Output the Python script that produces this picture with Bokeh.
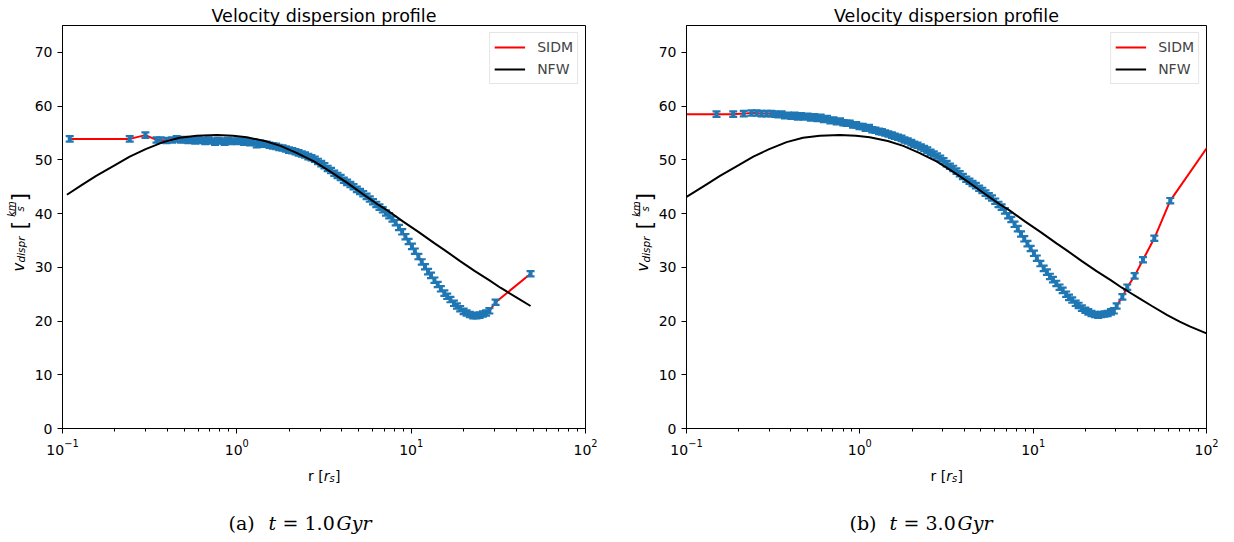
import math

from bokeh.core.properties import value
from bokeh.embed import file_html
from bokeh.layouts import row
from bokeh.models import FixedTicker, Legend, LegendItem, LogTickFormatter, Range1d
from bokeh.plotting import figure
from bokeh.resources import INLINE

# ---------------------------------------------------------------- data
# panel (a): t = 1.0 Gyr
r_sidm_a = [0.110, 0.243, 0.299, 0.346, 0.365, 0.395, 0.426, 0.452, 0.478, 0.501,
            0.527, 0.552, 0.578, 0.603, 0.631, 0.659, 0.688, 0.718, 0.750, 0.782,
            0.815, 0.851, 0.888, 0.926, 0.966, 1.01, 1.05, 1.10, 1.14, 1.19,
            1.25, 1.30, 1.36, 1.42, 1.48, 1.54, 1.61, 1.68, 1.75, 1.83,
            1.91, 1.99, 2.08, 2.17, 2.26, 2.36, 2.46, 2.57, 2.68, 2.80,
            2.92, 3.05, 3.18, 3.32, 3.47, 3.62, 3.78, 3.94, 4.11, 4.29,
            4.48, 4.67, 4.88, 5.09, 5.31, 5.55, 5.79, 6.04, 6.31, 6.58,
            6.87, 7.17, 7.48, 7.81, 8.15, 8.51, 8.88, 9.27, 9.67, 10.1,
            10.5, 11.0, 11.5, 12.0, 12.5, 13.0, 13.6, 14.2, 14.8, 15.5,
            16.1, 16.8, 17.6, 18.3, 19.1, 20.0, 20.8, 21.7, 22.7, 23.7,
            24.7, 25.8, 26.9, 28.1, 30.5, 48.4]
v_sidm_a = [53.9, 53.9, 54.6, 53.7, 53.7, 53.6, 53.7, 53.9, 53.7, 53.8,
            53.6, 53.7, 53.5, 53.7, 53.6, 53.4, 53.7, 53.5, 53.3, 53.6,
            53.5, 53.3, 53.6, 53.4, 53.5, 53.4, 53.5, 53.3, 53.4, 53.2,
            53.3, 52.8, 53.1, 52.9, 52.9, 52.7, 52.6, 52.5, 52.3, 52.2,
            52.0, 51.8, 51.7, 51.5, 51.3, 51.1, 50.9, 50.6, 50.4, 50.1,
            49.7, 49.3, 48.9, 48.4, 48.0, 47.5, 47.1, 46.7, 46.2, 45.8,
            45.4, 45.0, 44.5, 44.1, 43.7, 43.2, 42.7, 42.2, 41.7, 41.2,
            40.7, 40.1, 39.6, 39.0, 38.3, 37.4, 36.6, 35.7, 34.8, 33.9,
            33.0, 32.0, 31.0, 30.1, 29.2, 28.5, 27.6, 26.8, 26.0, 25.2,
            24.6, 24.0, 23.3, 22.8, 22.3, 21.8, 21.5, 21.2, 21.0, 21.0,
            21.1, 21.3, 21.5, 21.9, 23.5, 28.8]
err_a = 0.5

r_nfw_a = [0.106, 0.13, 0.156, 0.20, 0.243, 0.30, 0.378, 0.47, 0.588, 0.767,
           0.95, 1.14, 1.45, 1.78, 2.2, 2.77, 3.44, 4.3, 5.3, 6.5,
           7.3, 9.0, 11.0, 13.7, 15.4, 19.0, 23.2, 28.0, 32.5, 35.3,
           41.0, 48.4]
v_nfw_a = [43.5, 45.4, 47.0, 49.0, 50.6, 52.0, 53.3, 54.1, 54.5, 54.6,
           54.5, 54.2, 53.5, 52.6, 51.3, 49.7, 47.8, 45.7, 43.6, 41.6,
           40.6, 38.5, 36.6, 34.4, 33.3, 31.2, 29.3, 27.6, 26.2, 25.5,
           24.2, 22.8]

# panel (b): t = 3.0 Gyr
r_sidm_b = [0.070, 0.149, 0.186, 0.214, 0.237, 0.254, 0.271, 0.290, 0.309, 0.325,
            0.339, 0.354, 0.370, 0.386, 0.403, 0.421, 0.439, 0.458, 0.479, 0.500,
            0.522, 0.545, 0.569, 0.594, 0.620, 0.647, 0.676, 0.705, 0.736, 0.769,
            0.803, 0.838, 0.875, 0.913, 0.953, 0.995, 1.04, 1.08, 1.13, 1.18,
            1.23, 1.29, 1.34, 1.40, 1.46, 1.53, 1.59, 1.66, 1.74, 1.81,
            1.89, 1.98, 2.06, 2.15, 2.25, 2.35, 2.45, 2.56, 2.67, 2.79,
            2.91, 3.04, 3.17, 3.31, 3.46, 3.61, 3.77, 3.93, 4.11, 4.29,
            4.47, 4.67, 4.88, 5.09, 5.31, 5.55, 5.79, 6.04, 6.31, 6.58,
            6.87, 7.17, 7.48, 7.81, 8.15, 8.51, 8.88, 9.27, 9.67, 10.1,
            10.5, 11.0, 11.5, 12.0, 12.5, 13.0, 13.6, 14.2, 14.8, 15.5,
            16.1, 16.8, 17.6, 18.3, 19.1, 20.0, 20.8, 21.7, 22.7, 23.7,
            24.7, 25.8, 26.9, 28.1, 29.2, 30.3, 32.7, 34.9, 38.5, 43.0,
            50.0, 61.8, 120.0]
v_sidm_b = [58.5, 58.5, 58.5, 58.6, 58.7, 58.7, 58.6, 58.6, 58.6, 58.5,
            58.4, 58.5, 58.2, 58.3, 58.1, 58.3, 58.0, 58.2, 58.0, 58.1,
            57.8, 58.0, 57.7, 57.9, 57.5, 57.7, 57.3, 57.4, 57.1, 57.2,
            56.9, 56.8, 56.8, 56.5, 56.5, 56.2, 56.2, 55.9, 56.0, 55.6,
            55.5, 55.3, 55.2, 55.0, 54.8, 54.6, 54.4, 54.2, 54.0, 53.7,
            53.5, 53.2, 52.9, 52.7, 52.4, 52.1, 51.8, 51.4, 51.1, 50.7,
            50.3, 49.8, 49.3, 48.8, 48.4, 47.9, 47.4, 46.9, 46.4, 46.0,
            45.6, 45.2, 44.7, 44.3, 43.8, 43.3, 42.9, 42.3, 41.7, 41.2,
            40.5, 39.6, 38.9, 38.0, 37.2, 36.2, 35.3, 34.4, 33.5, 32.6,
            31.7, 30.7, 29.8, 29.1, 28.3, 27.7, 27.0, 26.3, 25.7, 25.0,
            24.4, 23.9, 23.3, 22.9, 22.4, 22.0, 21.7, 21.4, 21.2, 21.1,
            21.2, 21.3, 21.4, 21.7, 21.9, 22.8, 24.5, 26.3, 28.4, 31.4,
            35.4, 42.4, 55.8]
err_b = 0.5

r_nfw_b = [0.09, 0.10, 0.13, 0.156, 0.20, 0.243, 0.30, 0.378, 0.47, 0.588,
           0.767, 0.95, 1.14, 1.45, 1.78, 2.2, 2.77, 3.44, 4.3, 5.3,
           6.5, 7.3, 9.0, 11.0, 13.7, 15.4, 19.0, 23.2, 28.0, 32.5,
           35.3, 41.0, 48.4, 59.4, 70.0, 80.0, 100.0, 115.0]
v_nfw_b = [42.3, 43.1, 45.4, 47.0, 49.0, 50.6, 52.0, 53.3, 54.1, 54.5,
           54.6, 54.5, 54.2, 53.5, 52.6, 51.3, 49.7, 47.8, 45.7, 43.6,
           41.6, 40.6, 38.5, 36.6, 34.4, 33.3, 31.2, 29.3, 27.6, 26.2,
           25.5, 24.2, 22.8, 21.1, 19.9, 19.0, 17.7, 17.0]

x_major = [0.1, 1, 10, 100]
y_major = [0, 10, 20, 30, 40, 50, 60, 70]

title_text = "Velocity dispersion profile"
legend_labels = ["SIDM", "NFW"]
captions = [("(a)", "1.0"), ("(b)", "3.0")]

# ---------------------------------------------------------------- layout
PAGE_H = 542
FIG_W = 617
FRAME_TOP, FRAME_BOTTOM = 25, 428
BLUE = "#1f77b4"
SANS = "DejaVu Sans"
SERIF = "DejaVu Serif"


class TextPlacer:
    """Draws free text at page pixel positions, anchored on an in-frame data point."""

    def __init__(self, p, left, right):
        self.p = p
        decade = (right - left) / 3.0
        self.ax = 1.0
        self.ay = 30.0
        self.apx = left + (math.log10(self.ax) + 1) * decade
        self.apy = FRAME_BOTTOM - self.ay * (FRAME_BOTTOM - FRAME_TOP) / 75.0

    def put(self, text, px, py, size, font=SANS, style="normal",
            align="left", baseline="alphabetic", angle=0.0):
        self.p.text(x=[self.ax], y=[self.ay], text=[text],
                    x_offset=px - self.apx, y_offset=py - self.apy, angle=angle,
                    text_font=value(font), text_font_size=value(f"{size}px"),
                    text_font_style=style, text_align=align,
                    text_baseline=baseline, text_color="black", level="overlay")


def panel(r, v, err, rn, vn, left, right, offset, caption, cap_x):
    p = figure(width=FIG_W, height=PAGE_H, x_axis_type="log",
               x_range=Range1d(0.1, 100), y_range=Range1d(0, 75), title=None,
               output_backend="svg", toolbar_location=None,
               min_border_left=left - offset,
               min_border_right=offset + FIG_W - right,
               min_border_top=FRAME_TOP, min_border_bottom=PAGE_H - FRAME_BOTTOM)
    p.background_fill_color = "white"
    p.border_fill_color = "white"
    p.outline_line_color = "black"
    p.outline_line_width = 1
    p.grid.visible = False

    minors = [m * 10.0 ** k for k in (-1, 0, 1) for m in range(2, 10)]
    p.xaxis.ticker = FixedTicker(ticks=x_major, minor_ticks=minors)
    p.xaxis.formatter = LogTickFormatter()
    p.yaxis.ticker = FixedTicker(ticks=y_major)
    for ax in (p.xaxis[0], p.yaxis[0]):
        ax.axis_line_color = "black"
        ax.major_tick_in = 0
        ax.major_tick_out = 5
        ax.minor_tick_in = 0
        ax.minor_tick_out = 3
        ax.major_tick_line_color = "black"
        ax.minor_tick_line_color = "black"
        ax.major_label_text_font = SANS
        ax.major_label_text_font_size = "14px"
        ax.major_label_text_color = "black"
        ax.major_label_standoff = 5
    p.yaxis.minor_tick_line_color = None

    lo = [y - err for y in v]
    hi = [y + err for y in v]
    sidm = p.line(r, v, line_color="red", line_width=2)
    p.segment(r, lo, r, hi, line_color=BLUE, line_width=4)
    p.scatter(r, hi, marker="dash", size=8, line_color=BLUE, line_width=2.2)
    p.scatter(r, lo, marker="dash", size=8, line_color=BLUE, line_width=2.2)
    nfw = p.line(rn, vn, line_color="black", line_width=2)

    legend = Legend(items=[LegendItem(label=legend_labels[0], renderers=[sidm]),
                           LegendItem(label=legend_labels[1], renderers=[nfw])],
                    location="top_right", margin=7, padding=4, spacing=2,
                    glyph_width=31, glyph_height=20, label_standoff=12,
                    label_text_font=SANS, label_text_font_size="14px",
                    border_line_color="#cccccc", border_line_width=1,
                    background_fill_alpha=0.8)
    p.add_layout(legend)

    t = TextPlacer(p, left, right)
    cx = (left + right) / 2
    dx = left - 62
    # title
    t.put(title_text, cx, 16, 17.5, align="center")
    # x axis label: r [r_s]
    s0 = cx - 16
    t.put("r [", s0, 475, 14)
    t.put("r", s0 + 15.7, 475, 14, style="italic")
    t.put("s", s0 + 21.5, 478, 10, style="italic")
    t.put("]", s0 + 27.0, 475, 14)
    # y axis label: v_dispr [km/s]
    a = math.pi / 2
    t.put("v", 18.5 + dx, 271, 15, style="italic", angle=a)
    t.put("dispr", 21 + dx, 262, 10.5, style="italic", angle=a)
    t.put("[", 19.5 + dx, 229, 22, angle=a)
    t.put("km", 11.5 + dx, 208.5, 10, style="italic", align="center", angle=a)
    t.put("\u2014", 13.3 + dx, 208.5, 14, align="center", baseline="middle", angle=a)
    t.put("s", 20.5 + dx, 208.5, 10, style="italic", align="center", angle=a)
    t.put("]", 19.5 + dx, 201, 22, angle=a)
    # caption
    letter, tval = caption
    c0 = cap_x
    t.put(letter, c0, 522, 19, font=SERIF)
    t.put("t", c0 + 40, 522, 19, font=SERIF, style="italic")
    t.put("=", c0 + 54, 522, 19, font=SERIF)
    t.put(tval, c0 + 76, 522, 19, font=SERIF)
    t.put("Gyr", c0 + 108, 522, 19, font=SERIF, style="italic")
    return p


pa = panel(r_sidm_a, v_sidm_a, err_a, r_nfw_a, v_nfw_a, 62, 585, 0, captions[0], 228)
pb = panel(r_sidm_b, v_sidm_b, err_b, r_nfw_b, v_nfw_b, 686, 1206, FIG_W, captions[1], 849)

layout = row(pa, pb)
with open("out.html", "w") as f:
    f.write(file_html(layout, INLINE))
